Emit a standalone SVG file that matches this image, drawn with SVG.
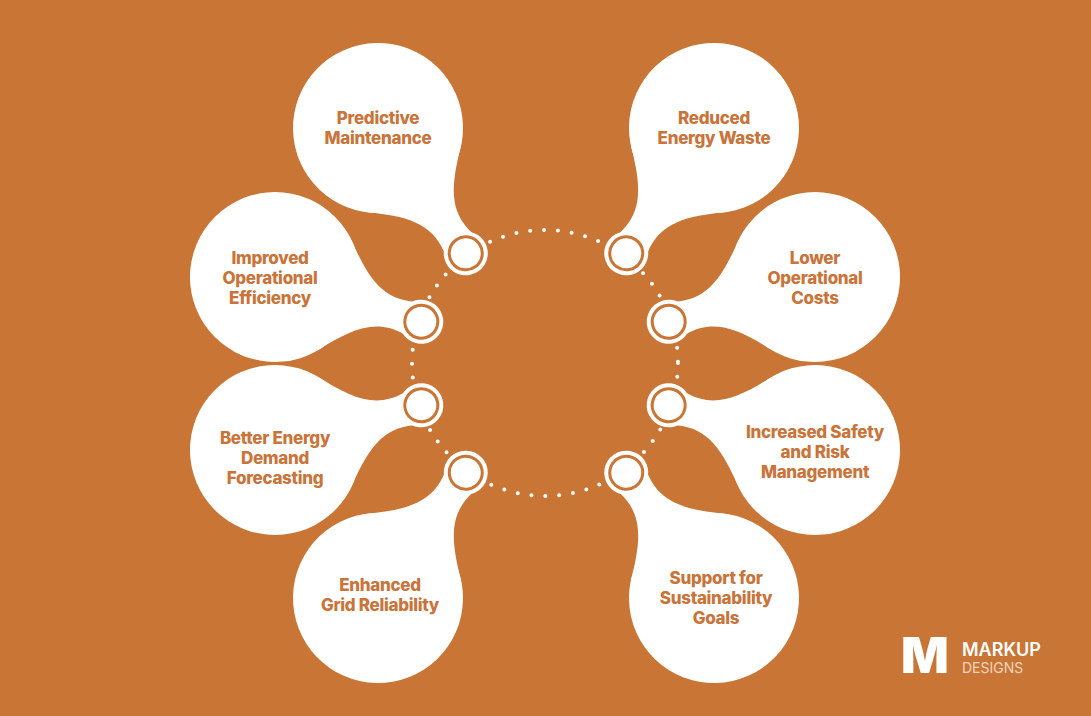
<svg xmlns="http://www.w3.org/2000/svg" width="1091" height="716" viewBox="0 0 1091 716">
<defs>
<style>
.t{font-family:Inter,"Liberation Sans",sans-serif;font-weight:800;font-size:17px;fill:#C8743A;text-anchor:middle;letter-spacing:-0.3px}
.w{fill:#fff}
</style>
<g id="bub">
<circle r="85" class="w"/>
<path class="w" d="M62 -58 C88 -28,108 -10,140 -17 L140 17 C108 10,88 28,62 58 Z"/>
<circle cx="153" r="22" class="w"/>
<circle cx="153" r="16.5" fill="none" stroke="#C97535" stroke-width="3"/>
</g>
</defs>
<rect width="1091" height="716" fill="#C97535"/>
<g id="connectors">
<circle cx="545" cy="363" r="133" fill="none" stroke="#fff" stroke-width="4" stroke-linecap="round" stroke-dasharray="0 13.9"/>
</g>
<g id="n1"><use href="#bub" transform="translate(378,128) rotate(55)"/><text class="t" x="378" y="124">Predictive</text><text class="t" x="378" y="144">Maintenance</text></g>
<g id="n2"><use href="#bub" transform="translate(714,128) rotate(125)"/><text class="t" x="714" y="124">Reduced</text><text class="t" x="714" y="144">Energy Waste</text></g>
<g id="n3"><use href="#bub" transform="translate(275,277) rotate(17)"/><text class="t" x="270" y="264">Improved</text><text class="t" x="270" y="284">Operational</text><text class="t" x="270" y="304">Efficiency</text></g>
<g id="n4"><use href="#bub" transform="translate(815,277) rotate(163)"/><text class="t" x="815" y="264">Lower</text><text class="t" x="815" y="284">Operational</text><text class="t" x="815" y="304">Costs</text></g>
<g id="n5"><use href="#bub" transform="translate(275,450) rotate(-17)"/><text class="t" x="275" y="444">Better Energy</text><text class="t" x="275" y="464">Demand</text><text class="t" x="275" y="484">Forecasting</text></g>
<g id="n6"><use href="#bub" transform="translate(815,450) rotate(197)"/><text class="t" x="815" y="438">Increased Safety</text><text class="t" x="815" y="458">and Risk</text><text class="t" x="815" y="478">Management</text></g>
<g id="n7"><use href="#bub" transform="translate(378,598) rotate(-55)"/><text class="t" x="380" y="591">Enhanced</text><text class="t" x="380" y="611">Grid Reliability</text></g>
<g id="n8"><use href="#bub" transform="translate(714,598) rotate(235)"/><text class="t" x="716" y="584">Support for</text><text class="t" x="716" y="604">Sustainability</text><text class="t" x="716" y="624">Goals</text></g>
<g id="logo">
<text x="925" y="673" font-family="Inter,'Liberation Sans',sans-serif" font-weight="900" font-size="50" fill="#fff" text-anchor="middle">M</text>
<text x="962" y="656" font-family="Inter,'Liberation Sans',sans-serif" font-weight="600" font-size="18" fill="#fff">MARKUP</text>
<text x="962" y="673" font-family="Inter,'Liberation Sans',sans-serif" font-size="14" fill="#F3D6BF">DESIGNS</text>
</g>
</svg>
